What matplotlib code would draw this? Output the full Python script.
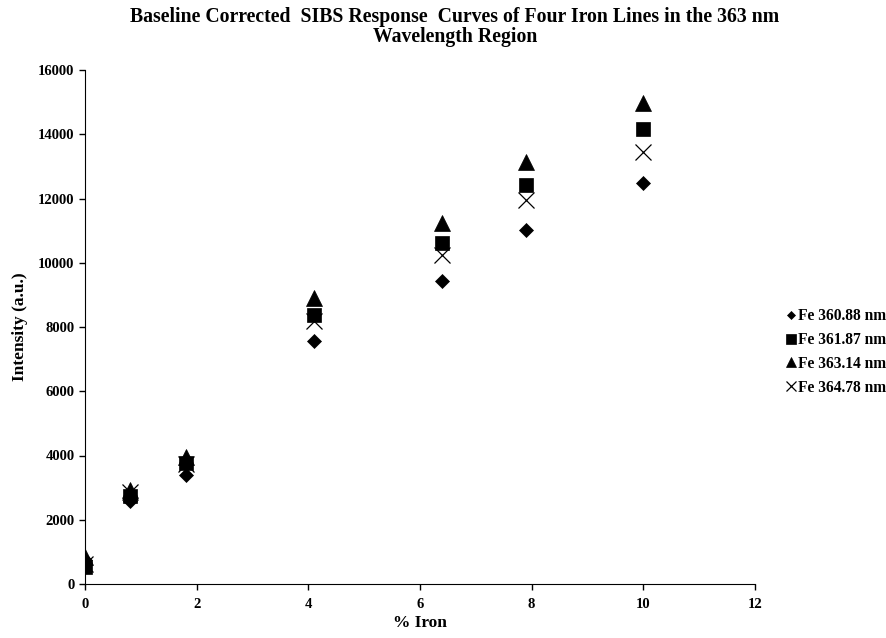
import matplotlib
matplotlib.use("Agg")
import matplotlib.pyplot as plt

plt.rcParams["font.family"] = ["Liberation Serif", "DejaVu Serif"]
plt.rcParams["font.weight"] = "bold"

# % iron content of the standards
iron_pct = [0.0, 0.8, 1.8, 4.1, 6.4, 7.9, 10.0]

# baseline corrected intensities (a.u.)
fe_360_88 = [750, 2580, 3380, 7560, 9440, 11020, 12480]
fe_361_87 = [520, 2750, 3760, 8370, 10620, 12420, 14160]
fe_363_14 = [850, 2930, 3960, 8900, 11230, 13150, 14980]
fe_364_78 = [620, 2850, 3720, 8190, 10240, 11950, 13460]

series = [
    ("Fe 360.88 nm", fe_360_88, "D", 7),
    ("Fe 361.87 nm", fe_361_87, "s", 10),
    ("Fe 363.14 nm", fe_363_14, "^", 11.5),
    ("Fe 364.78 nm", fe_364_78, "x", 12),
]

fig = plt.figure(figsize=(8.87, 6.38), dpi=100)
ax = fig.add_axes([85 / 887, 54 / 638, 670 / 887, 514 / 638])

for label, vals, mk, ms in series:
    ax.plot(iron_pct, vals, linestyle="none", marker=mk, markersize=ms,
            color="black", markeredgewidth=0.9 if mk == "x" else 0.5,
            label=label)

ax.set_xlim(0, 12)
ax.set_ylim(0, 16000)
ax.set_xticks(range(0, 13, 2))
ax.set_yticks(range(0, 16001, 2000))
for s in ["top", "right"]:
    ax.spines[s].set_visible(False)
ax.tick_params(direction="out", length=4, width=1, labelsize=10.5)
ax.tick_params(axis="x", pad=6)
for lab in ax.get_xticklabels() + ax.get_yticklabels():
    lab.set_fontweight("bold")

ax.set_xlabel("% Iron", fontsize=12.5, fontweight="bold", labelpad=3)
ax.set_ylabel("Intensity (a.u.)", fontsize=12.5, fontweight="bold", labelpad=7)

fig.text(455 / 887, 1 - 27 / 638,
         "Baseline Corrected  SIBS Response  Curves of Four Iron Lines in the 363 nm\nWavelength Region",
         ha="center", va="center", fontsize=14.2, fontweight="bold",
         linespacing=1.02)

leg = ax.legend(loc="center left", bbox_to_anchor=(780 / 887, 1 - 352 / 638),
                bbox_transform=fig.transFigure, frameon=False,
                prop={"size": 11.2, "weight": "bold"}, markerscale=0.65,
                handlelength=0.6, handletextpad=0.15, labelspacing=0.5,
                borderaxespad=0)

fig.savefig("out.png", dpi=100)
